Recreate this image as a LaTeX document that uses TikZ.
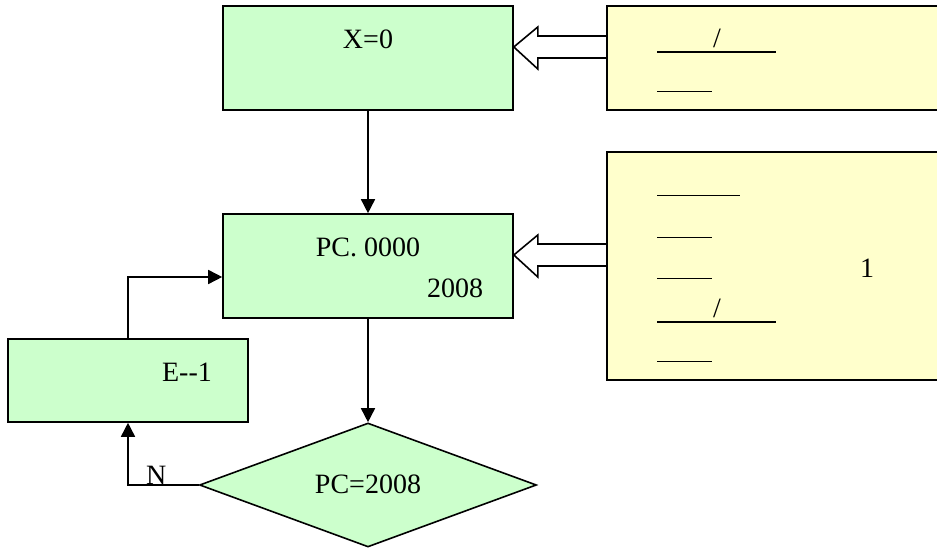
\documentclass[tikz,border=0pt]{standalone}
\usepackage{fontspec}
\setmainfont{Liberation Serif}
\usetikzlibrary{shapes.geometric,arrows.meta}
\definecolor{boxgreen}{HTML}{CCFFCC}
\definecolor{noteyellow}{HTML}{FFFFCC}
% hollow arrow, tip at #1, tail into the note box
\newcommand{\fatarrow}[1]{\draw[fill=white,line width=0.8pt] (#1) -- ++(24,-20) -- ++(0,9) -- ++(72,0) -- ++(0,22) -- ++(-72,0) -- ++(0,11) -- cycle;}

\begin{document}
\begin{tikzpicture}[x=0.5pt,y=-0.5pt,font=\fontsize{14}{16}\selectfont,
    procbox/.style={draw,line width=0.8pt,fill=boxgreen,rectangle,inner sep=0},
    notebox/.style={draw,line width=0.8pt,fill=noteyellow,rectangle,inner sep=0},
    flow/.style={line width=0.8pt,-{Triangle[length=7pt,width=7pt]}},
    blank/.style={line width=0.5pt},
    blankthick/.style={line width=1pt}]
    \clip (0,0) rectangle (937,549);
    % Flow boxes
    \node[procbox,minimum width=145pt,minimum height=52pt] (init) at (368,58) {};
    \node[procbox,minimum width=145pt,minimum height=52pt] (count) at (368,266) {};
    \node[procbox,minimum width=120pt,minimum height=41.5pt] (dec) at (128,380.5) {};
    \node[procbox,diamond,aspect=2.7,minimum width=168.5pt,minimum height=62pt] (check) at (368,485) {};
    \node (initText) at (368,39) {X=0};
    \node (countText) at (368,247) {PC. 0000};
    \node (yearText) at (455,288) {2008};
    \node (decText) at (187,372) {E-{}-1};
    \node (checkText) at (368,484) {PC=2008};
    % Hollow arrows from the notes
    \fatarrow{[yshift=5.5pt]init.east}
    \fatarrow{[yshift=5.5pt]count.east}
    % Notes (right side runs off the page)
    \node[notebox,minimum width=190pt,minimum height=52pt] (note1) at (797,58) {};
    \node[notebox,minimum width=190pt,minimum height=114pt] (note2) at (797,266) {};
    \draw[blankthick] (657,52) -- (776,52);
    \node (slash1) at (717,38) {/};
    \draw[blank] (657,92) -- (712,92);
    \draw[blank] (657,196) -- (740,196);
    \draw[blank] (657,238) -- (712,238);
    \draw[blank] (657,279) -- (712,279);
    \draw[blankthick] (657,322) -- (776,322);
    \node (slash2) at (717,308) {/};
    \draw[blank] (657,362) -- (712,362);
    \node (noteNum) at (867,268) {1};
    % Connectors
    \draw[flow] (init) -- (count);
    \draw[flow] (count) -- (check);
    \draw[flow] (check.west) -| node[pos=0.3,anchor=base,inner sep=0] (nlabel) {N} (dec.south);
    \draw[flow] (dec.north) |- ([yshift=-5.5pt]count.west);
\end{tikzpicture}
\end{document}
